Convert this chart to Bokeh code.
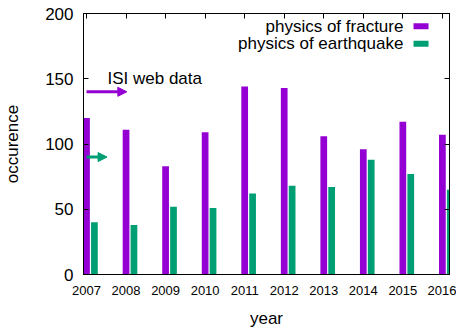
from bokeh.plotting import figure
from bokeh.models import (Range1d, LinearAxis, FixedTicker, Label, BoxAnnotation,
                          Arrow, NormalHead)
from bokeh.embed import file_html
from bokeh.resources import INLINE

# ---- data ----
years = [2007, 2008, 2009, 2010, 2011, 2012, 2013, 2014, 2015, 2016]
fracture = [120, 111, 83, 109, 144, 143, 106, 96, 117, 107]
earthquake = [40, 38, 52, 51, 62, 68, 67, 88, 77, 65]
series_names = ["physics of fracture", "physics of earthquake"]
colors = ["#9400D3", "#009E73"]
y_ticks = [0, 50, 100, 150, 200]
annotation_text = "ISI web data"

FONT = "Liberation Sans"

p = figure(width=456, height=331, output_backend="svg", toolbar_location=None,
           x_range=Range1d(2006.924, 2016.18), y_range=Range1d(0, 200),
           min_border_left=83, min_border_right=7, min_border_top=13,
           min_border_bottom=57, x_axis_label="year", y_axis_label="occurence")
p.background_fill_color = "white"
p.border_fill_color = "white"
p.outline_line_color = "black"
p.outline_line_width = 1
p.grid.visible = False

bw = 0.17
p.vbar(x=years, top=fracture, width=bw, bottom=0, fill_color=colors[0], line_color=None)
p.vbar(x=[y + 0.2 for y in years], top=earthquake, width=bw, bottom=0,
       fill_color=colors[1], line_color=None)

# axes styling
xa = p.xaxis[0]
xa.ticker = FixedTicker(ticks=years)
xa.major_label_text_font = FONT
xa.major_label_text_font_size = "13px"
xa.major_label_text_color = "black"
xa.major_label_standoff = 11
xa.major_tick_in = 0
xa.major_tick_out = 0
xa.minor_tick_line_color = None
xa.axis_line_color = "black"
xa.axis_label_text_font = FONT
xa.axis_label_text_font_size = "17px"
xa.axis_label_text_font_style = "normal"
xa.axis_label_text_color = "black"
xa.axis_label_standoff = 11

ya = p.yaxis[0]
ya.ticker = FixedTicker(ticks=y_ticks)
ya.major_label_text_font = FONT
ya.major_label_text_font_size = "17px"
ya.major_label_text_color = "black"
ya.major_label_standoff = 10
ya.major_tick_in = 5
ya.major_tick_out = 0
ya.major_tick_line_color = "black"
ya.minor_tick_line_color = None
ya.axis_line_color = "black"
ya.axis_label_text_font = FONT
ya.axis_label_text_font_size = "17px"
ya.axis_label_text_font_style = "normal"
ya.axis_label_text_color = "black"
ya.axis_label_standoff = 20

# mirror axes (ticks only)
top = LinearAxis(ticker=FixedTicker(ticks=years), major_tick_in=5, major_tick_out=0,
                 minor_tick_line_color=None, major_label_standoff=0,
                 major_label_overrides={y: "" for y in years})
right = LinearAxis(ticker=FixedTicker(ticks=y_ticks), major_tick_in=5, major_tick_out=0,
                   minor_tick_line_color=None, major_label_standoff=0,
                   major_label_overrides={t: "" for t in y_ticks})
p.add_layout(top, "above")
p.add_layout(right, "right")

# arrows and annotation text
p.add_layout(Arrow(x_start=2007, y_start=140, x_end=2008.02, y_end=140,
                   line_color=colors[0], line_width=3,
                   end=NormalHead(size=9, fill_color=colors[0], line_color=colors[0])))
p.add_layout(Arrow(x_start=2007, y_start=90, x_end=2007.52, y_end=90,
                   line_color=colors[1], line_width=3,
                   end=NormalHead(size=9, fill_color=colors[1], line_color=colors[1])))
p.add_layout(Label(x=2007.53, y=150, text=annotation_text, text_align="left",
                   text_baseline="middle", text_font=FONT, text_font_size="17px",
                   text_color="black"))

# legend (gnuplot style: text right, sample on right)
leg_y = [190.3, 176.8]
for name, col, yy in zip(series_names, colors, leg_y):
    p.add_layout(Label(x=2015.015, y=yy, text=name, text_align="right",
                       text_baseline="middle", text_font=FONT, text_font_size="17px",
                       text_color="black"))
    p.add_layout(BoxAnnotation(left=2015.27, right=2015.65, bottom=yy - 2.3, top=yy + 2.3,
                               fill_color=col, fill_alpha=1.0, line_color=None))

open("out.html", "w").write(file_html(p, INLINE))
